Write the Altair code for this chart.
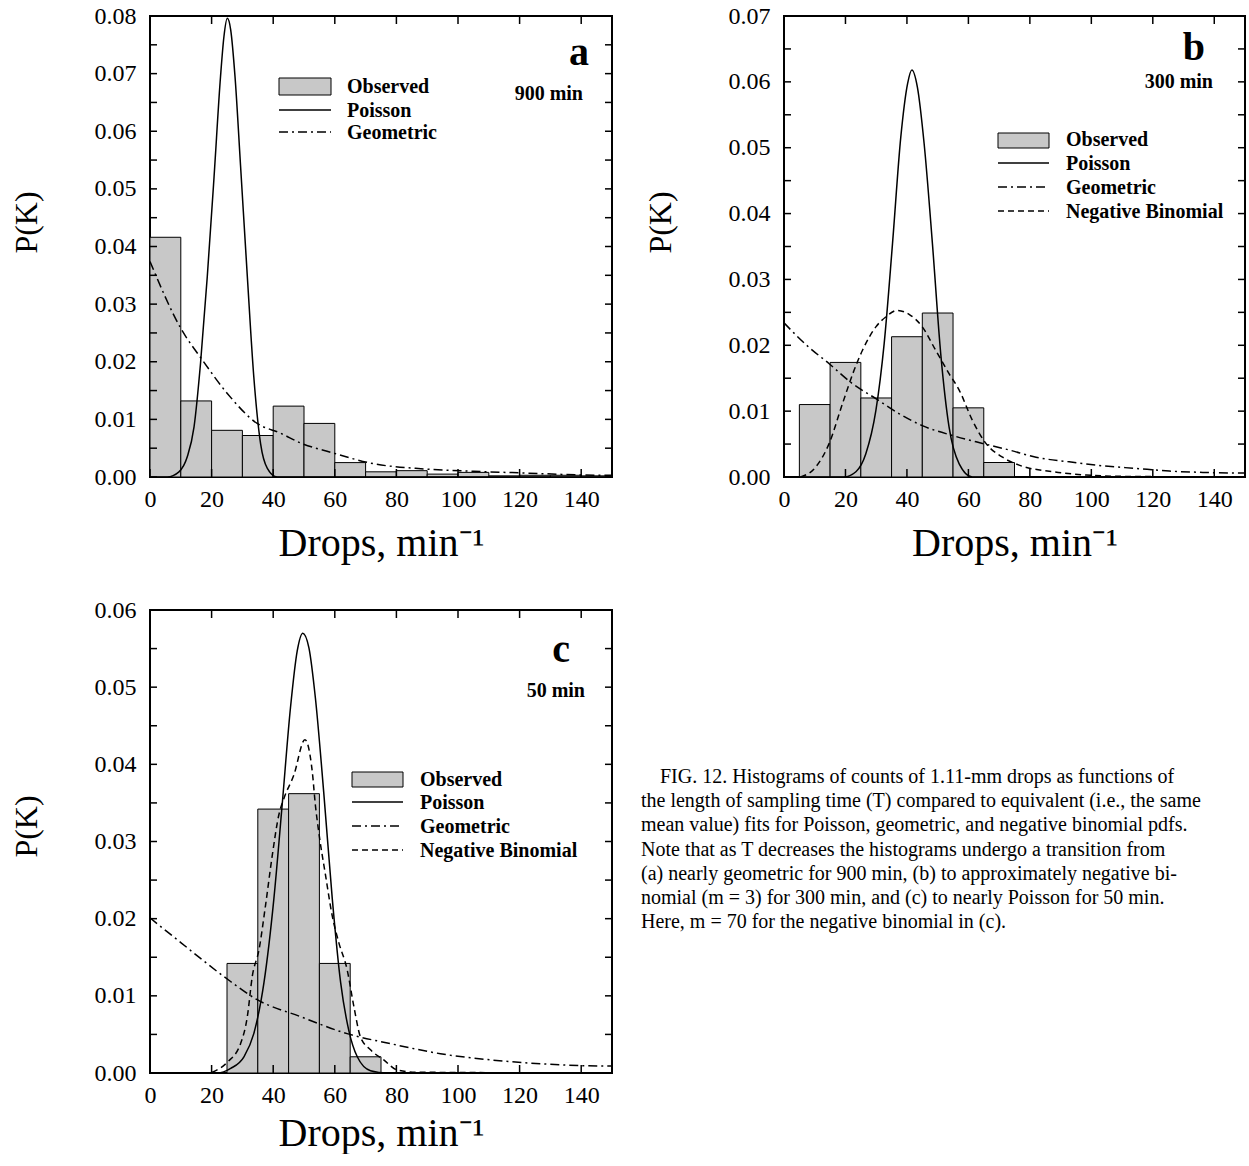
import altair as alt
import pandas as pd

SERIF = "Liberation Serif"
GRAY = "#c8c8c8"

# ---------------- data ----------------
BIN_W = 10
x_ticks = [0, 20, 40, 60, 80, 100, 120, 140]

# Panel a: 900 min
a_bin_start = [0, 10, 20, 30, 40, 50, 60, 70, 80, 90, 100, 110, 120, 130, 140]
a_observed = [0.0416, 0.0132, 0.0081, 0.0072, 0.0123, 0.0093, 0.0025, 0.0009,
              0.0011, 0.0005, 0.0008, 0.0002, 0.0003, 0.0003, 0.0002]
a_pois_x = [0, 5.6, 9.4, 12.1, 14.3, 16.4, 18.6, 20.8, 22.9, 24.0, 25.1, 26.2,
            27.6, 29.4, 31.6, 33.7, 35.9, 38.1, 41.3, 150]
a_pois_y = [0, 0, 0.0009, 0.0035, 0.0087, 0.0197, 0.0348, 0.0521, 0.0695, 0.0764,
            0.0796, 0.0776, 0.0695, 0.0540, 0.0348, 0.0174, 0.0058, 0.0015, 0, 0]
a_geom_x = [0, 10, 17, 25.1, 34.8, 42.4, 48.9, 58.6, 72.7, 88.9, 105, 121, 148, 150]
a_geom_y = [0.0374, 0.0258, 0.0203, 0.0145, 0.0093, 0.0076, 0.0059, 0.0043,
            0.0023, 0.0014, 0.0010, 0.0007, 0.0003, 0.0003]

# Panel b: 300 min
b_bin_start = [5, 15, 25, 35, 45, 55, 65]
b_observed = [0.0110, 0.0174, 0.0120, 0.0213, 0.0249, 0.0105, 0.0022]
b_pois_x = [0, 19.5, 23.4, 26.6, 29.9, 32.6, 35.3, 38.0, 40.2, 41.6, 43.4, 45.6,
            48.3, 51.0, 53.7, 57.0, 61.3, 150]
b_pois_y = [0, 0, 0.0008, 0.0035, 0.0101, 0.0203, 0.0354, 0.0516, 0.0597, 0.0618,
            0.0592, 0.0506, 0.0354, 0.0187, 0.0076, 0.0020, 0, 0]
b_geom_x = [0, 8.1, 14.7, 22.2, 29.9, 37.5, 45, 54.8, 64.6, 73.3, 82.0, 92.8,
            103.7, 114.5, 125.4, 136.3, 150]
b_geom_y = [0.0234, 0.0197, 0.0172, 0.0142, 0.0119, 0.0096, 0.0078, 0.0063,
            0.0051, 0.0041, 0.0030, 0.0023, 0.0017, 0.0013, 0.0009, 0.0007, 0.0006]
b_negb_x = [5.4, 10.3, 14.7, 19.0, 22.8, 25.5, 29.9, 33.1, 36.9, 40.7, 45.0, 49.4,
            53.7, 57.0, 61.3, 65.7, 71.1, 76.5, 87.4, 98.3, 109.1, 150]
b_negb_y = [0, 0.0015, 0.0051, 0.0111, 0.0162, 0.0192, 0.0228, 0.0243, 0.0253,
            0.0247, 0.0228, 0.0192, 0.0157, 0.0132, 0.0086, 0.0051, 0.0030,
            0.0018, 0.0008, 0.0003, 0.0001, 0]

# Panel c: 50 min
c_bin_start = [25, 35, 45, 55, 65]
c_observed = [0.0142, 0.0342, 0.0362, 0.0142, 0.0021]
c_pois_x = [0, 21.9, 26.2, 30.5, 33.7, 37.0, 40.2, 42.9, 45.6, 47.8, 49.6, 51.6,
            53.7, 56.4, 59.2, 61.9, 64.5, 67.3, 71.6, 77, 150]
c_pois_y = [0, 0, 0.0006, 0.0021, 0.0051, 0.0117, 0.0225, 0.0347, 0.0473, 0.0547,
            0.0570, 0.0551, 0.0486, 0.0364, 0.0225, 0.0117, 0.0056, 0.0021,
            0.0003, 0, 0]
c_geom_x = [0, 10, 24, 34.8, 48.9, 64, 78.1, 94.3, 110.5, 126.7, 148.3, 150]
c_geom_y = [0.0201, 0.0169, 0.0125, 0.0095, 0.0073, 0.0051, 0.0038, 0.0025,
            0.0017, 0.0012, 0.0009, 0.0009]
c_negb_x = [20.2, 25.1, 29.4, 31.6, 33.2, 35.4, 37.5, 39.7, 41.8, 43.5, 46.7, 50.3,
            52.7, 53.7, 54.8, 57.0, 59.2, 61.3, 64.0, 66.2, 68.3, 71.6, 75.9,
            80.2, 86.7, 150]
c_negb_y = [0.0001, 0.0014, 0.0038, 0.0073, 0.0125, 0.0160, 0.0217, 0.0282,
            0.0334, 0.0356, 0.0386, 0.0432, 0.0390, 0.0347, 0.0312, 0.0256,
            0.0203, 0.0169, 0.0134, 0.0086, 0.0047, 0.0030, 0.0017, 0.0004,
            0.0001, 0]

legend_labels = ["Observed", "Poisson", "Geometric", "Negative Binomial"]
panel_letters = ["a", "b", "c"]
time_labels = ["900 min", "300 min", "50 min"]
x_title = "Drops, min⁻¹"
y_title = "P(K)"

caption_lines = [
    "FIG. 12. Histograms of counts of 1.11-mm drops as functions of",
    "the length of sampling time (T) compared to equivalent (i.e., the same",
    "mean value) fits for Poisson, geometric, and negative binomial pdfs.",
    "Note that as T decreases the histograms undergo a transition from",
    "(a) nearly geometric for 900 min, (b) to approximately negative bi-",
    "nomial (m = 3) for 300 min, and (c) to nearly Poisson for 50 min.",
    "Here, m = 70 for the negative binomial in (c).",
]

STYLES = {
    "Poisson": dict(strokeWidth=1.5),
    "Geometric": dict(strokeWidth=1.5, strokeDash=[9, 4, 2, 4]),
    "Negative Binomial": dict(strokeWidth=1.5, strokeDash=[6, 4]),
}

one = pd.DataFrame({"k": [0]})


def txt(s, x, y, size, weight="normal", align="left", baseline="alphabetic", limit=None):
    kw = dict(font=SERIF, fontSize=size, fontWeight=weight, align=align,
              baseline=baseline, color="black")
    if limit is not None:
        kw["limit"] = limit
        kw["ellipsis"] = ""
    return alt.Chart(pd.DataFrame({"t": [s]})).mark_text(**kw).encode(
        text="t:N", x=alt.value(x), y=alt.value(y))


def panel(W, H, ymax, bin_start, observed, curves, letter, letter_xy, tlabel,
          tlabel_xy, legend, ytitle_y, xtitle_y, extra=None):
    xs = alt.Scale(domain=[0, 150], nice=False, zero=False)
    ys = alt.Scale(domain=[0, ymax], nice=False)
    n_major = int(round(ymax / 0.01))
    y_major = [round(i * 0.01, 2) for i in range(n_major + 1)]
    y_minor = [round(i * 0.005, 3) for i in range(2 * n_major + 1)]
    xaxis = alt.Axis(values=x_ticks, format="d", ticks=False, tickSize=0,
                     domain=False, grid=False, labelFont=SERIF, labelFontSize=24,
                     labelColor="black", labelPadding=29, labelBaseline="alphabetic",
                     labelFlush=False, title=x_title, titleFont=SERIF,
                     titleFontSize=40, titleFontWeight="normal", titleColor="black",
                     titleY=xtitle_y, titleBaseline="alphabetic")
    yaxis = alt.Axis(values=y_major, format=".2f", ticks=False, tickSize=0,
                     domain=False, grid=False, labelFont=SERIF, labelFontSize=24,
                     labelColor="black", labelPadding=14, labelFlush=False,
                     title=y_title, titleFont=SERIF, titleFontSize=32,
                     titleFontWeight="normal", titleColor="black", titleX=-114,
                     titleY=ytitle_y, titleAngle=270, titleBaseline="alphabetic",
                     titleAlign="center")
    X = lambda f: alt.X(f, scale=xs, axis=xaxis)
    Y = lambda f: alt.Y(f, scale=ys, axis=yaxis)

    bars_df = pd.DataFrame({"x0": bin_start,
                            "x1": [b + BIN_W for b in bin_start],
                            "p": observed})
    layers = [alt.Chart(bars_df).mark_rect(fill=GRAY, stroke="black", strokeWidth=1)
              .encode(x=X("x0:Q"), x2="x1:Q", y=Y("p:Q"), y2=alt.datum(0))]

    for name, xv, yv in curves:
        df = pd.DataFrame({"x": xv, "y": yv})
        layers.append(alt.Chart(df).mark_line(color="black", interpolate="monotone",
                                              clip=True, **STYLES[name])
                      .encode(x=X("x:Q"), y=Y("y:Q")))

    xt = pd.DataFrame({"v": x_ticks})
    yt = pd.DataFrame({"v": y_minor})
    tk = dict(color="black", strokeWidth=1.5)
    layers += [
        alt.Chart(xt).mark_rule(**tk).encode(x=X("v:Q"), y=alt.value(H), y2=alt.value(H - 8)),
        alt.Chart(xt).mark_rule(**tk).encode(x=X("v:Q"), y=alt.value(0), y2=alt.value(8)),
        alt.Chart(yt).mark_rule(**tk).encode(y=Y("v:Q"), x=alt.value(0), x2=alt.value(7)),
        alt.Chart(yt).mark_rule(**tk).encode(y=Y("v:Q"), x=alt.value(W - 7), x2=alt.value(W)),
    ]

    layers.append(txt(letter, letter_xy[0], letter_xy[1], 40, "bold", "right"))
    layers.append(txt(tlabel, tlabel_xy[0], tlabel_xy[1], 20, "bold", "right"))

    # legend
    lx0, lx1, tx, rows, rect_y = legend
    layers.append(alt.Chart(one).mark_rect(fill=GRAY, stroke="black", strokeWidth=1)
                  .encode(x=alt.value(lx0), x2=alt.value(lx1),
                          y=alt.value(rect_y[0]), y2=alt.value(rect_y[1])))
    for i, name in enumerate(legend_labels[:len(rows)]):
        layers.append(txt(name, tx, rows[i], 20, "bold", "left", "middle"))
        if i > 0:
            layers.append(alt.Chart(one).mark_rule(color="black", **STYLES[name])
                          .encode(x=alt.value(lx0), x2=alt.value(lx1),
                                  y=alt.value(rows[i] - 1)))
    if extra:
        layers += extra
    return alt.layer(*layers).properties(width=W, height=H)


WA, HA = 462, 461
pa = panel(WA, HA, 0.08, a_bin_start, a_observed,
           [("Poisson", a_pois_x, a_pois_y), ("Geometric", a_geom_x, a_geom_y)],
           panel_letters[0], (WA - 23, 49), time_labels[0], (WA - 29, 84),
           (129, 181, 197, [71, 95, 117], (62, 79)), 206, 78)

WB, HB = 461, 461
pb = panel(WB, HB, 0.07, b_bin_start, b_observed,
           [("Poisson", b_pois_x, b_pois_y), ("Geometric", b_geom_x, b_geom_y),
            ("Negative Binomial", b_negb_x, b_negb_y)],
           panel_letters[1], (WB - 40, 44), time_labels[1], (WB - 32, 72),
           (214, 265, 282, [124, 148, 172, 196], (117, 132)), 206, 78)

WC, HC = 462, 463
cap = []
for i, line in enumerate(caption_lines):
    x0 = 510 if i == 0 else 491
    cap.append(txt(line, x0, 173 + i * 24.2, 20, "normal", "left", "alphabetic",
                   limit=1097 - x0))
pc = panel(WC, HC, 0.06, c_bin_start, c_observed,
           [("Poisson", c_pois_x, c_pois_y), ("Geometric", c_geom_x, c_geom_y),
            ("Negative Binomial", c_negb_x, c_negb_y)],
           panel_letters[2], (WC - 42, 52), time_labels[2], (WC - 27, 87),
           (202, 253, 270, [170, 193, 217, 241], (162, 177)), 216, 72, extra=cap)

chart = (alt.concat(pa, pb, pc, columns=2, bounds="flush",
                    spacing=alt.RowColnumber(row=133, column=172))
         .properties(padding={"left": 9, "top": 3, "right": 0, "bottom": 0})
         .configure_view(stroke="black", strokeWidth=2))

chart.save("out.html", embed_options={"renderer": "svg", "actions": False})
